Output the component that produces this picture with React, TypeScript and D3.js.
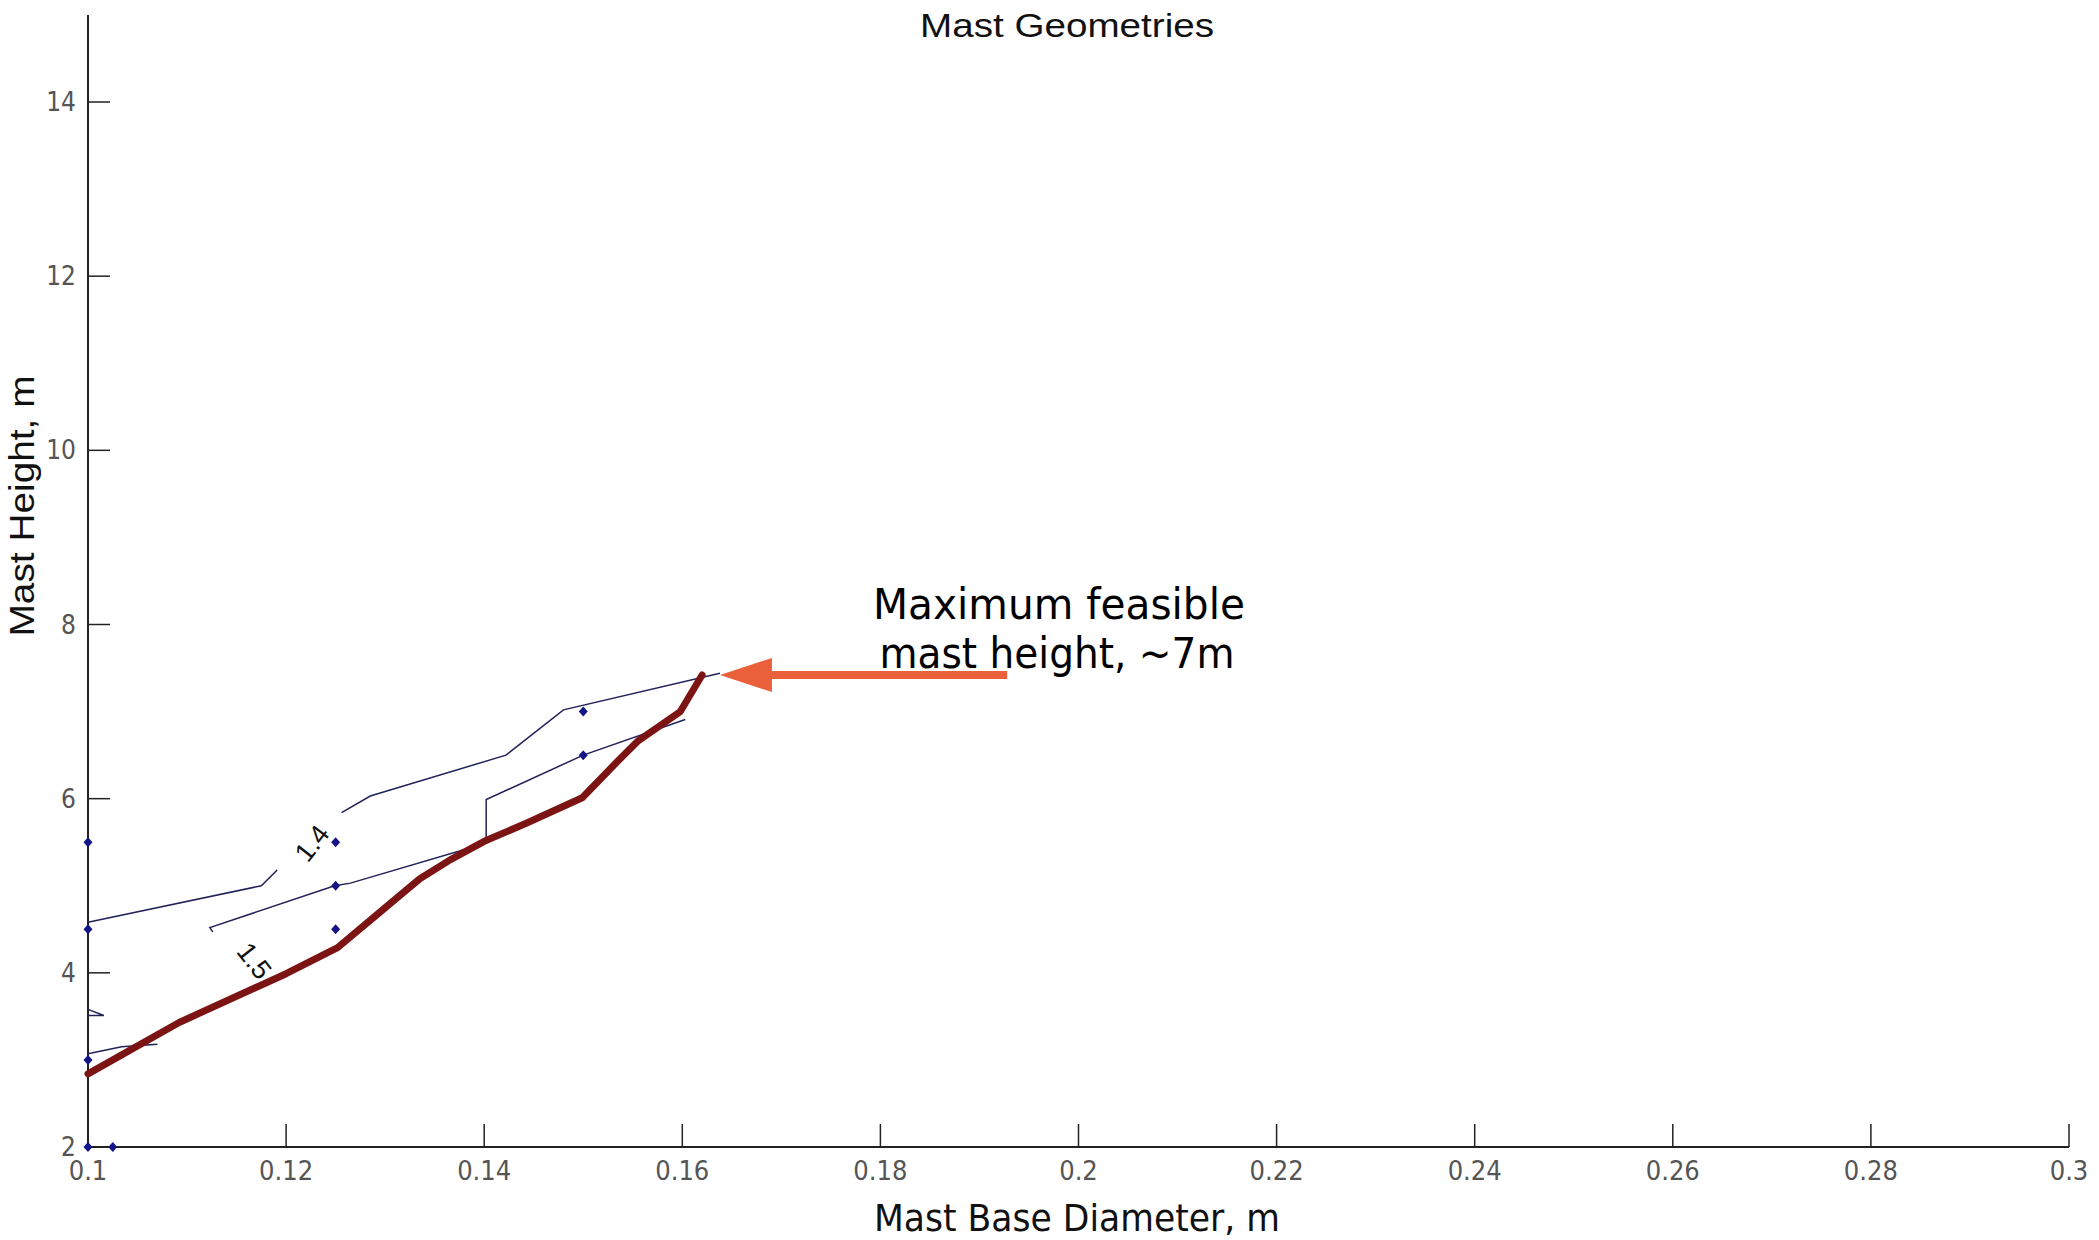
import { useEffect } from "react"
import * as d3 from "d3"

// chart values
const X_TICKS = [0.1, 0.12, 0.14, 0.16, 0.18, 0.2, 0.22, 0.24, 0.26, 0.28, 0.3]
const Y_TICKS = [2, 4, 6, 8, 10, 12, 14]

// feasible boundary (thick red)
const boundary: [number, number][] = [
  [0.1, 2.84], [0.1092, 3.43], [0.12, 3.99], [0.1252, 4.29], [0.1294, 4.69],
  [0.1335, 5.08], [0.1366, 5.3], [0.14, 5.51], [0.1443, 5.72], [0.1499, 6.01],
  [0.1533, 6.41], [0.1555, 6.66], [0.1598, 7.0], [0.162, 7.42],
]

// thin contour segments
const contour14a: [number, number][] = [[0.1, 4.58], [0.1175, 5.0], [0.1191, 5.18]]
const contour14b: [number, number][] = [
  [0.1256, 5.84], [0.1285, 6.03], [0.1422, 6.5], [0.148, 7.02], [0.1638, 7.44],
]
const contour15a: [number, number][] = [
  [0.1126, 4.47], [0.1123, 4.52], [0.1249, 5.0], [0.1265, 5.03], [0.1393, 5.46],
]
const contour15b: [number, number][] = [[0.1402, 5.51], [0.1402, 5.99], [0.15, 6.5], [0.1603, 6.91]]
const fragA: [number, number][] = [[0.1, 3.58], [0.1016, 3.51], [0.1, 3.51]]
const fragB: [number, number][] = [[0.1, 3.07], [0.1034, 3.15], [0.107, 3.18]]

const markers: [number, number][] = [
  [0.1, 5.5], [0.1, 4.5], [0.1, 3.0], [0.1, 2.0], [0.1025, 2.0],
  [0.125, 5.5], [0.125, 5.0], [0.125, 4.5], [0.15, 7.0], [0.15, 6.5],
]

const contourLabels = [
  { text: "1.4", x: 0.1226, y: 5.49, angle: -52 },
  { text: "1.5", x: 0.1168, y: 4.14, angle: 52 },
]

const arrowFrom: [number, number] = [0.1928, 7.42]
const arrowTo: [number, number] = [0.1638, 7.42]

const W = 2099
const H = 1240

export default function App() {
  useEffect(() => {
    document.body.style.margin = "0"
  }, [])

  const x = d3.scaleLinear().domain([0.1, 0.3]).range([88, 2069])
  const y = d3.scaleLinear().domain([2, 14]).range([1147, 102])
  const line = d3.line<[number, number]>().x(d => x(d[0])).y(d => y(d[1]))

  const thin = [contour14a, contour14b, contour15a, contour15b, fragA, fragB]

  // arrow geometry
  const tipX = x(arrowTo[0])
  const tipY = y(arrowTo[1])
  const headLen = 52
  const headHalf = 17

  const narrow = "'Liberation Sans Narrow', 'Arial Narrow', 'DejaVu Sans Condensed', sans-serif"
  const sans = "'Liberation Sans', Arial, sans-serif"

  return (
    <svg width={W} height={H} style={{ display: "block", background: "#fff" }}>
      {/* title */}
      <text x={1067} y={37} textAnchor="middle" fontFamily={sans} fontSize={34} fill="#111"
        textLength={294} lengthAdjust="spacingAndGlyphs">
        Mast Geometries
      </text>

      {/* axes */}
      <line x1={x(0.1)} x2={x(0.3)} y1={y(2)} y2={y(2)} stroke="#222" strokeWidth={2} />
      <line x1={x(0.1)} x2={x(0.1)} y1={y(2)} y2={y(15)} stroke="#222" strokeWidth={2} />
      {X_TICKS.map(t => (
        <g key={"xt" + t}>
          <line x1={x(t)} x2={x(t)} y1={y(2)} y2={y(2) - 23} stroke="#222" strokeWidth={1.5} />
          <text x={x(t)} y={1180} textAnchor="middle" fontFamily={narrow} fontSize={27} fill="#555">
            {String(t)}
          </text>
        </g>
      ))}
      {Y_TICKS.map(t => (
        <g key={"yt" + t}>
          <line x1={x(0.1)} x2={x(0.1) + 22} y1={y(t)} y2={y(t)} stroke="#222" strokeWidth={1.5} />
          <text x={76} y={y(t)} dy="0.35em" textAnchor="end" fontFamily={narrow} fontSize={26} fill="#555">
            {t}
          </text>
        </g>
      ))}

      {/* axis titles */}
      <text x={1077} y={1231} textAnchor="middle" fontFamily={narrow} fontSize={38} fill="#111"
        textLength={406} lengthAdjust="spacingAndGlyphs">
        Mast Base Diameter, m
      </text>
      <text transform="translate(34,506) rotate(-90)" textAnchor="middle" fontFamily={sans} fontSize={35}
        fill="#111" textLength={261} lengthAdjust="spacingAndGlyphs">
        Mast Height, m
      </text>

      {/* contours */}
      {thin.map((seg, i) => (
        <path key={"c" + i} d={line(seg) || ""} fill="none" stroke="#22225a" strokeWidth={1.5} />
      ))}
      <path d={line(boundary) || ""} fill="none" stroke="#7d1414" strokeWidth={7}
        strokeLinejoin="round" strokeLinecap="round" />

      {markers.map((m, i) => (
        <path key={"m" + i} transform={`translate(${x(m[0])},${y(m[1])})`}
          d="M0,-5L4.5,0L0,5L-4.5,0Z" fill="#141487" />
      ))}

      {contourLabels.map(l => (
        <text key={l.text} transform={`translate(${x(l.x)},${y(l.y)}) rotate(${l.angle})`}
          textAnchor="middle" dy="0.35em" fontFamily={sans} fontSize={27} fill="#111">
          {l.text}
        </text>
      ))}

      {/* annotation arrow */}
      <line x1={x(arrowFrom[0])} x2={tipX + headLen - 2} y1={y(arrowFrom[1])} y2={tipY}
        stroke="#e9603b" strokeWidth={8} />
      <path d={`M${tipX},${tipY}L${tipX + headLen},${tipY - headHalf}L${tipX + headLen},${tipY + headHalf}Z`}
        fill="#e9603b" />

      <text x={1059} y={619} textAnchor="middle" fontFamily={narrow} fontSize={42} fill="#000"
        textLength={372} lengthAdjust="spacingAndGlyphs">
        Maximum feasible
      </text>
      <text x={1057} y={668} textAnchor="middle" fontFamily={narrow} fontSize={42} fill="#000"
        textLength={355} lengthAdjust="spacingAndGlyphs">
        mast height, ~7m
      </text>
    </svg>
  )
}
